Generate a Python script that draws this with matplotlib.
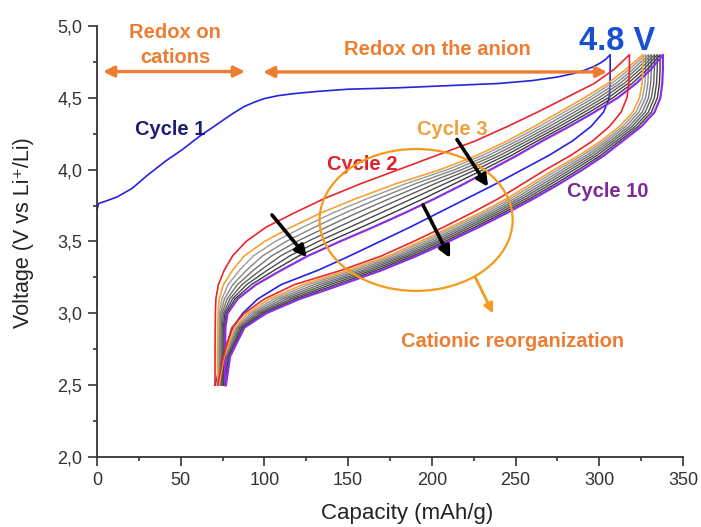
import matplotlib
matplotlib.use('Agg')
import matplotlib.pyplot as plt
from matplotlib.patches import Ellipse

plt.rcParams['font.family'] = ['Liberation Sans', 'DejaVu Sans']

# voltage grid shared by cycles 2-10 and by every discharge branch
volt = [2.5, 2.7, 2.9, 3.0, 3.1, 3.2, 3.3, 3.4, 3.5, 3.6, 3.7,
        3.8, 3.9, 4.0, 4.1, 4.2, 4.3, 4.4, 4.5, 4.6, 4.7, 4.8]

# first charge (own points, long plateau)
c1_charge_cap = [0, 0, 1, 5, 12, 21, 30, 41, 51, 61, 71, 81, 88, 94, 100, 108, 118,
                 132, 150, 180, 210, 240, 260, 275, 285, 292, 297, 301, 304, 306.5]
c1_charge_v = [3.04, 3.72, 3.765, 3.78, 3.81, 3.87, 3.96, 4.06, 4.14, 4.23, 4.31, 4.39,
               4.44, 4.47, 4.495, 4.515, 4.53, 4.545, 4.56, 4.57, 4.585, 4.60, 4.62,
               4.645, 4.67, 4.695, 4.72, 4.745, 4.77, 4.80]

# charge branches: capacity (mAh/g) at each voltage of volt
charge_c2 = [70.5, 70.5, 70.6, 70.7, 71.0, 72.5, 76, 81, 89, 101, 118, 136, 157, 180, 203, 226, 245, 263, 280, 297, 309, 318]
charge_c3 = [72, 72, 72.1, 72.3, 73, 75.5, 81, 88, 100, 116, 134, 155, 178, 205, 227, 245, 261, 276, 291, 305, 316, 326]
charge_c4 = [72.7, 72.7, 72.8, 73.1, 74.6, 78.3, 85.1, 93.4, 106.4, 123, 141.1, 161.7, 183.9, 209.3, 230.4, 248, 264, 279, 293.9, 307.4, 318.1, 327.7]
charge_c5 = [73.3, 73.3, 73.4, 73.9, 76.1, 81.1, 89.3, 98.9, 112.9, 130, 148.3, 168.4, 189.7, 213.6, 233.9, 251, 267, 282, 296.7, 309.9, 320.3, 329.4]
charge_c6 = [74.0, 74.0, 74.1, 74.7, 77.7, 83.9, 93.4, 104.3, 119.3, 137, 155.4, 175.1, 195.6, 217.9, 237.3, 254, 270, 285, 299.6, 312.3, 322.4, 331.1]
charge_c7 = [74.6, 74.6, 74.7, 75.6, 79.3, 86.6, 97.6, 109.7, 125.7, 144, 162.6, 181.9, 201.4, 222.1, 240.7, 257, 273, 288, 302.4, 314.7, 324.6, 332.9]
charge_c8 = [75.2, 75.2, 75.4, 76.4, 80.9, 89.4, 101.7, 115.1, 132.1, 151, 169.7, 188.6, 207.3, 226.4, 244.1, 260, 276, 291, 305.3, 317.1, 326.7, 334.6]
charge_c9 = [75.9, 75.9, 76.0, 77.2, 82.4, 92.2, 105.9, 120.6, 138.6, 158, 176.9, 195.3, 213.1, 230.7, 247.6, 263, 279, 294, 308.1, 319.6, 328.9, 336.3]
charge_c10 = [76.5, 76.5, 76.7, 78, 84, 95, 110, 126, 145, 165, 184, 202, 219, 235, 251, 266, 282, 297, 311, 322, 331, 338]

# discharge branches: capacity (mAh/g) at each voltage of volt
discharge_c1 = [70.5, 75, 81, 87, 96, 110, 132, 151, 169, 187, 204, 221, 238, 254, 270, 284, 295, 302.5, 306, 306.4, 306.5, 306.5]
discharge_c2 = [72, 75.5, 80.5, 88, 100, 118, 146, 170, 189, 207, 224, 240, 254, 268, 283, 296, 306, 313, 316.5, 317.7, 318, 318]
discharge_c3 = [72.7, 76, 82, 90, 103, 123, 150, 174, 193, 211, 229, 245, 259, 273, 288, 301, 312, 320, 324, 325.6, 326, 326]
discharge_c4 = [73.3, 76.5, 82.9, 91.6, 105.6, 126.3, 152.9, 176.4, 195.4, 213.4, 231.3, 247.3, 261.4, 275.4, 290.1, 302.9, 313.9, 321.9, 325.8, 327.3, 327.7, 327.7]
discharge_c5 = [74.0, 77, 83.7, 93.1, 108.1, 129.6, 155.7, 178.9, 197.9, 215.9, 233.6, 249.6, 263.9, 277.9, 292.3, 304.7, 315.7, 323.7, 327.6, 329.0, 329.4, 329.4]
discharge_c6 = [74.6, 77.5, 84.6, 94.7, 110.7, 132.9, 158.6, 181.3, 200.3, 218.3, 235.9, 251.9, 266.3, 280.3, 294.4, 306.6, 317.6, 325.6, 329.4, 330.7, 331.1, 331.1]
discharge_c7 = [75.2, 78, 85.4, 96.3, 113.3, 136.1, 161.4, 183.7, 202.7, 220.7, 238.1, 254.1, 268.7, 282.7, 296.6, 308.4, 319.4, 327.4, 331.1, 332.5, 332.9, 332.9]
discharge_c8 = [75.9, 78.5, 86.3, 97.9, 115.9, 139.4, 164.3, 186.1, 205.1, 223.1, 240.4, 256.4, 271.1, 285.1, 298.7, 310.3, 321.3, 329.3, 332.9, 334.2, 334.6, 334.6]
discharge_c9 = [76.5, 79, 87.1, 99.4, 118.4, 142.7, 167.1, 188.6, 207.6, 225.6, 242.7, 258.7, 273.6, 287.6, 300.9, 312.1, 323.1, 331.1, 334.7, 335.9, 336.3, 336.3]
discharge_c10 = [77, 79.5, 88, 101, 121, 146, 170, 191, 210, 228, 245, 261, 276, 290, 303, 314, 325, 333, 336.5, 337.6, 338, 338]

xticks = [0, 50, 100, 150, 200, 250, 300, 350]
yticks = [2.0, 2.5, 3.0, 3.5, 4.0, 4.5, 5.0]
ytick_labels = ['2,0', '2,5', '3,0', '3,5', '4,0', '4,5', '5,0']

ORANGE = '#ee7d31'
grey_colors = ['#9a9a9a', '#858585', '#717171', '#5e5e5e', '#4b4b4b', '#393939']

fig = plt.figure(figsize=(7.01, 5.27), dpi=100)
ax = fig.add_axes([97 / 701, 1 - 457 / 527, 586 / 701, 431 / 527])


def loop(charge, discharge):
    return charge + discharge[::-1], volt + volt[::-1]


# cycle 1 first, the later cycles cover it where they overlap
ax.plot(c1_charge_cap + discharge_c1[::-1], c1_charge_v + volt[::-1],
        color='#2323e0', lw=1.2, zorder=2)

greys = [(charge_c4, discharge_c4), (charge_c5, discharge_c5), (charge_c6, discharge_c6),
         (charge_c7, discharge_c7), (charge_c8, discharge_c8), (charge_c9, discharge_c9)]
for (chg, dis), col in zip(greys, grey_colors):
    x, y = loop(chg, dis)
    ax.plot(x, y, color=col, lw=1.0, zorder=3)

x, y = loop(charge_c10, discharge_c10)
ax.plot(x, y, color='#8b2fe0', lw=1.6, zorder=4)
x, y = loop(charge_c3, discharge_c3)
ax.plot(x, y, color='#f7a233', lw=1.2, zorder=4)
x, y = loop(charge_c2, discharge_c2)
ax.plot(x, y, color='#e8262c', lw=1.2, zorder=4)

# axes look
ax.set_xlim(0, 350)
ax.set_ylim(2.0, 5.0)
ax.set_xticks(xticks)
ax.set_xticks(range(25, 350, 50), minor=True)
ax.set_yticks(yticks)
ax.set_yticklabels(ytick_labels)
ax.set_yticks([2.25, 2.75, 3.25, 3.75, 4.25, 4.75], minor=True)
for s in ['top', 'right']:
    ax.spines[s].set_visible(False)
for s in ['left', 'bottom']:
    ax.spines[s].set_color('#333333')
    ax.spines[s].set_linewidth(1.3)
ax.tick_params(which='major', length=6.5, width=1.2, color='#333333',
               labelsize=13, labelcolor='#333333', pad=4)
ax.tick_params(which='minor', length=3, width=1.2, color='#333333')

ax.set_xlabel('Capacity (mAh/g)', fontsize=16, color='#222222')
ax.xaxis.set_label_coords(0.529, -0.106)
ax.set_ylabel('Voltage (V vs Li⁺/Li)', fontsize=15.5, color='#222222')
ax.yaxis.set_label_coords(-0.108, 0.52)

# annotations
bold = dict(fontweight='bold', ha='center', va='baseline', fontsize=14.5)
ax.text(46.6, 4.916, 'Redox on', color=ORANGE, **bold)
ax.text(46.6, 4.743, 'cations', color=ORANGE, **bold)
ax.text(203.4, 4.798, 'Redox on the anion', color=ORANGE, **bold)
ax.text(310.4, 4.833, '4.8 V', color='#1a4fd0', fontweight='bold', ha='center',
        va='baseline', fontsize=23.5)
ax.text(43.6, 4.241, 'Cycle 1', color='#1e1e7a', **bold)
ax.text(158.3, 4.0, 'Cycle 2', color='#e0202c', **bold)
ax.text(212.4, 4.241, 'Cycle 3', color='#f0a03c', **bold)
ax.text(305, 3.81, 'Cycle 10', color='#7a2a96', **bold)
ax.text(248.5, 2.766, 'Cationic reorganization', color=ORANGE, **bold)

orange_arrow = dict(arrowstyle='<|-|>', color=ORANGE, lw=2.4, mutation_scale=16,
                    shrinkA=0, shrinkB=0)
ax.annotate('', xy=(88.4, 4.683), xytext=(3.6, 4.683), arrowprops=orange_arrow)
ax.annotate('', xy=(304.7, 4.68), xytext=(99.2, 4.68), arrowprops=orange_arrow)

black_arrow = dict(arrowstyle='-|>', color='black', lw=2.6, mutation_scale=17,
                   shrinkA=0, shrinkB=0)
ax.annotate('', xy=(125.4, 3.39), xytext=(104.5, 3.685), arrowprops=black_arrow, zorder=6)
ax.annotate('', xy=(233.6, 3.88), xytext=(215, 4.21), arrowprops=black_arrow, zorder=6)
ax.annotate('', xy=(210.9, 3.385), xytext=(194.7, 3.755), arrowprops=black_arrow, zorder=6)

ax.add_patch(Ellipse((190.6, 3.65), 115.3, 0.988, fill=False, ec='#f59a1a', lw=1.6, zorder=5))
ax.annotate('', xy=(236.5, 3.0), xytext=(226, 3.25),
            arrowprops=dict(arrowstyle='-|>', color='#f59a1a', lw=2.0, mutation_scale=14,
                            shrinkA=0, shrinkB=0))

fig.savefig('out.png', dpi=100)
